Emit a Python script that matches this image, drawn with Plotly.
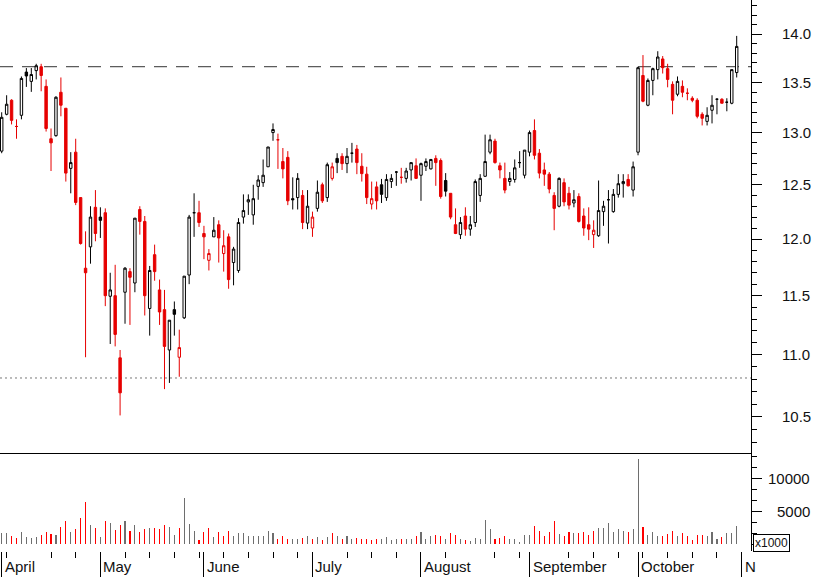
import plotly.graph_objects as go

# ---------------- data ----------------
opens = [12.82, 13.18, 13.32, 13.06, 13.17, 13.605, 13.51, 13.62, 13.66, 13.46,
         12.94, 12.97, 13.40, 13.24, 12.655, 12.81, 12.38, 11.74, 11.93, 12.29,
         12.20, 12.24, 11.495, 11.50, 10.975, 11.53, 11.71, 11.61, 12.27, 12.16,
         11.39, 11.86, 11.55, 11.38, 11.04, 11.38, 10.98, 11.31, 11.68, 12.24,
         12.24, 12.05, 11.81, 12.02, 12.13, 11.87, 12.02, 11.79, 11.72, 12.20,
         12.34, 12.22, 12.485, 12.52, 12.67, 13.00, 12.93, 12.72, 12.76, 12.37,
         12.38, 12.40, 12.145, 12.10, 12.28, 12.50, 12.38, 12.56, 12.75, 12.77,
         12.70, 12.80, 12.84, 12.675, 12.60, 12.32, 12.48, 12.50, 12.38, 12.53,
         12.62, 12.57, 12.56, 12.64, 12.68, 12.59, 12.675, 12.65, 12.75, 12.73,
         12.54, 12.42, 12.13, 12.04, 12.21, 12.09, 12.15, 12.40, 12.58, 12.81,
         12.917, 12.68, 12.56, 12.53, 12.55, 12.71, 12.59, 12.81, 13.02, 12.80,
         12.64, 12.60, 12.40, 12.30, 12.52, 12.42, 12.33, 12.39, 12.21, 12.13,
         12.04, 12.03, 12.25, 12.36, 12.25, 12.41, 12.51, 12.55, 12.45, 12.81,
         13.57, 13.27, 13.52, 13.63, 13.74, 13.64, 13.48, 13.38, 13.46, 13.39,
         13.34, 13.32, 13.18, 13.11, 13.22, 13.33, 13.33, 13.30, 13.29, 13.60]

highs = [13.20, 13.37, 13.33, 13.13, 13.56, 13.646, 13.646, 13.69, 13.69, 13.53,
         13.04, 13.36, 13.55, 13.24, 12.81, 12.94, 12.38, 12.07, 12.30, 12.45,
         12.29, 12.28, 11.70, 11.77, 11.04, 11.75, 11.74, 12.19, 12.30, 12.21,
         11.76, 11.95, 11.64, 11.55, 11.29, 11.45, 11.21, 11.67, 12.22, 12.42,
         12.35, 12.12, 11.91, 12.20, 12.17, 12.08, 12.05, 11.93, 12.19, 12.41,
         12.41, 12.50, 12.59, 12.74, 12.86, 13.09, 12.99, 12.85, 12.82, 12.57,
         12.61, 12.45, 12.45, 12.25, 12.54, 12.52, 12.71, 12.71, 12.80, 12.80,
         12.85, 12.90, 12.88, 12.80, 12.67, 12.53, 12.53, 12.555, 12.60, 12.60,
         12.63, 12.66, 12.66, 12.71, 12.75, 12.71, 12.75, 12.745, 12.78, 12.75,
         12.61, 12.42, 12.28, 12.20, 12.29, 12.21, 12.55, 12.60, 12.98, 12.98,
         12.94, 12.71, 12.71, 12.62, 12.74, 12.82, 12.83, 13.02, 13.13, 12.84,
         12.71, 12.62, 12.43, 12.57, 12.56, 12.48, 12.45, 12.42, 12.28, 12.29,
         12.17, 12.54, 12.35, 12.45, 12.46, 12.60, 12.60, 12.60, 12.72, 13.66,
         13.78, 13.54, 13.65, 13.82, 13.77, 13.69, 13.51, 13.56, 13.52, 13.44,
         13.36, 13.34, 13.20, 13.25, 13.37, 13.34, 13.34, 13.34, 13.63, 13.98]

lows = [12.80, 13.17, 13.08, 12.94, 13.13, 13.454, 13.404, 13.53, 13.41, 13.01,
        12.63, 12.96, 13.16, 12.53, 12.42, 12.31, 11.95, 10.98, 11.78, 11.98,
        12.01, 11.41, 11.09, 11.07, 10.51, 11.26, 11.25, 11.53, 12.04, 11.33,
        11.16, 11.63, 11.25, 10.72, 10.77, 11.16, 10.82, 11.30, 11.60, 12.02,
        12.11, 11.82, 11.72, 12.02, 11.79, 11.71, 11.56, 11.59, 11.70, 12.14,
        12.22, 12.13, 12.36, 12.48, 12.67, 12.92, 12.65, 12.56, 12.31, 12.27,
        12.27, 12.09, 12.09, 12.02, 12.25, 12.33, 12.34, 12.54, 12.61, 12.64,
        12.61, 12.71, 12.60, 12.53, 12.32, 12.27, 12.27, 12.33, 12.35, 12.47,
        12.49, 12.51, 12.52, 12.54, 12.555, 12.35, 12.63, 12.645, 12.49, 12.37,
        12.39, 12.18, 12.045, 12.00, 12.03, 12.03, 12.11, 12.34, 12.575, 12.79,
        12.70, 12.56, 12.42, 12.49, 12.52, 12.66, 12.56, 12.77, 12.74, 12.56,
        12.49, 12.42, 12.08, 12.29, 12.30, 12.27, 12.29, 12.15, 12.03, 11.99,
        11.92, 12.02, 12.12, 11.96, 12.24, 12.38, 12.38, 12.485, 12.39, 12.78,
        13.30, 13.26, 13.37, 13.53, 13.59, 13.45, 13.18, 13.36, 13.35, 13.32,
        13.30, 13.14, 13.07, 13.07, 13.09, 13.18, 13.29, 13.21, 13.28, 13.55]

closes = [13.15, 13.28, 13.12, 13.06, 13.54, 13.565, 13.58, 13.67, 13.57, 13.04,
          12.90, 13.35, 13.27, 12.61, 12.71, 12.335, 11.96, 11.70, 12.20, 12.05,
          12.17, 11.50, 11.55, 11.17, 10.69, 11.74, 11.66, 12.19, 12.16, 11.50,
          11.72, 11.71, 11.36, 11.07, 11.29, 11.34, 11.06, 11.67, 12.20, 12.24,
          12.15, 12.02, 11.87, 12.08, 12.01, 11.94, 11.64, 11.91, 12.15, 12.26,
          12.36, 12.37, 12.545, 12.59, 12.86, 13.03, 12.93, 12.65, 12.35, 12.36,
          12.56, 12.15, 12.30, 12.20, 12.43, 12.35, 12.69, 12.67, 12.71, 12.70,
          12.77, 12.80, 12.71, 12.605, 12.38, 12.37, 12.35, 12.41, 12.55, 12.56,
          12.62, 12.57, 12.63, 12.71, 12.56, 12.70, 12.72, 12.74, 12.71, 12.39,
          12.44, 12.20, 12.05, 12.15, 12.09, 12.13, 12.53, 12.56, 12.72, 12.93,
          12.71, 12.64, 12.45, 12.56, 12.66, 12.71, 12.83, 13.00, 12.78, 12.61,
          12.60, 12.46, 12.28, 12.56, 12.34, 12.31, 12.36, 12.16, 12.10, 12.09,
          12.08, 12.26, 12.30, 12.36, 12.41, 12.51, 12.53, 12.49, 12.67, 13.65,
          13.31, 13.52, 13.64, 13.76, 13.65, 13.53, 13.32, 13.51, 13.40, 13.39,
          13.32, 13.16, 13.14, 13.17, 13.27, 13.33, 13.29, 13.30, 13.63, 13.87]

# volume in thousands (axis marked x1000)
volumes = [1720, 1720, 1210, 960, 1870, 1110, 960, 1110, 1360, 1870,
           1520, 1360, 2630, 3540, 1870, 2270, 3990, 6410, 2880, 2480,
           1110, 3540, 3230, 2120, 2880, 3540, 2020, 2880, 1870, 2270,
           2480, 2480, 2270, 2880, 2630, 1360, 2480, 6920, 3080, 2020,
           610, 1870, 2420, 1060, 1870, 1210, 2020, 1210, 1720, 1720,
           1210, 1210, 1210, 1210, 2020, 1720, 710, 1210, 810, 810,
           810, 960, 1210, 810, 1060, 610, 1060, 1720, 1210, 810,
           1210, 710, 910, 810, 710, 610, 710, 810, 1060, 610,
           710, 710, 710, 710, 1210, 1870, 710, 1210, 1360, 1210,
           710, 1620, 1360, 710, 610, 450, 860, 810, 3640, 2270,
           810, 960, 1210, 710, 710, 350, 1360, 1360, 2730, 2020,
           1210, 1870, 3480, 1520, 1210, 1870, 1720, 1720, 1870, 1360,
           1970, 2370, 2370, 3230, 1870, 2270, 1970, 1870, 2270, 12830,
           2530, 1360, 1870, 1210, 1210, 1470, 1970, 1210, 1720, 1210,
           610, 1360, 1360, 1210, 1870, 810, 1060, 1620, 1620, 2730]

month_labels = ["April", "May", "June", "July", "August", "September", "October", "N"]
month_start_idx = [0, 20, 41, 63, 85, 107, 129, 150]
week_tick_idx = [1, 10, 15, 25, 30, 35, 40, 45, 50, 55, 60, 70, 75, 80,
                 90, 100, 105, 115, 120, 125, 130, 135, 140, 145]
price_ticks = [10.5, 11.0, 11.5, 12.0, 12.5, 13.0, 13.5, 14.0]
price_minor = [round(10.3 + 0.1 * k, 1) for k in range(41)]
vol_ticks = [5000, 10000]
vol_minor = [0, 1666.7, 3333.3, 6666.7, 8333.3, 11666.7, 13333.3]
ref_high = 13.66
ref_low = 10.81

# ---------------- styling ----------------
RED = "#e60000"
VRED = "#ff0000"
VGRAY = "#6e6e6e"
FONT = "Liberation Sans, Arial, sans-serif"

n = len(closes)
xs = list(range(n))

# hollow candles: close > open ; colour: red if close below previous close
groups = {
    "hollow_black": ([], "#ffffff", "#000000"),
    "filled_black": ([], "#000000", "#000000"),
    "hollow_red": ([], "#ffffff", RED),
    "filled_red": ([], RED, RED),
}
vol_colors = []
for i in range(n):
    prev = closes[i - 1] if i > 0 else opens[i]
    down = closes[i] < prev
    hollow = closes[i] > opens[i]
    key = ("hollow_" if hollow else "filled_") + ("red" if down else "black")
    groups[key][0].append(i)
    vol_colors.append(VRED if down else VGRAY)

fig = go.Figure()

for name, (idx, fill, line) in groups.items():
    if not idx:
        continue
    style = dict(fillcolor=fill, line=dict(color=line, width=1))
    fig.add_trace(go.Candlestick(
        x=[xs[i] for i in idx],
        open=[opens[i] for i in idx],
        high=[highs[i] for i in idx],
        low=[lows[i] for i in idx],
        close=[closes[i] for i in idx],
        increasing=style, decreasing=style,
        whiskerwidth=0, showlegend=False, hoverinfo="skip",
        xaxis="x", yaxis="y", name=name,
    ))

fig.add_trace(go.Bar(
    x=xs, y=volumes, marker=dict(color=vol_colors, line=dict(width=0)),
    width=0.22, xaxis="x2", yaxis="y2", showlegend=False, hoverinfo="skip",
))

XR = [-0.345, 151.9]
split = 98 / 551

fig.update_layout(
    width=817, height=577,
    margin=dict(l=0, r=66, t=0, b=26),
    paper_bgcolor="white", plot_bgcolor="white",
    boxgap=0.3,
    font=dict(family=FONT, color="#111111", size=15),
    xaxis=dict(domain=[0, 1], range=XR, anchor="y", showticklabels=False,
               showgrid=False, zeroline=False, showline=True, linecolor="#000000",
               linewidth=1, ticks="", rangeslider=dict(visible=False)),
    yaxis=dict(domain=[split, 1], type="log",
               range=[1.009339, 1.157228], side="right", anchor="x",
               showgrid=False, zeroline=False, showline=True, linecolor="#000000",
               linewidth=1, ticks="outside", ticklen=10, tickcolor="#000000",
               tickmode="array", tickvals=price_ticks,
               ticktext=["%.1f" % v for v in price_ticks],
               ticklabelstandoff=17,
               tickfont=dict(size=15, family=FONT, color="#111111"),
               minor=dict(tickmode="array", tickvals=price_minor, ticks="outside",
                          ticklen=5, tickcolor="#000000", showgrid=False)),
    xaxis2=dict(domain=[0, 1], range=XR, anchor="y2", showticklabels=False,
                showgrid=False, zeroline=False, showline=False,
                ticks="outside", ticklen=25, tickcolor="#000000", tickwidth=1,
                tickmode="array", tickvals=month_start_idx,
                minor=dict(tickmode="array", tickvals=week_tick_idx, ticks="outside",
                           ticklen=6, tickcolor="#000000", showgrid=False)),
    yaxis2=dict(domain=[0, split], range=[-1060, 13790], side="right", anchor="x2",
                showgrid=False, zeroline=False, showline=True, linecolor="#000000",
                linewidth=1, ticks="outside", ticklen=10, tickcolor="#000000",
                tickmode="array", tickvals=vol_ticks, showticklabels=False,
                minor=dict(tickmode="array", tickvals=vol_minor, ticks="outside",
                           ticklen=5, tickcolor="#000000", showgrid=False)),
    bargap=0,
)

fig.add_shape(type="line", xref="paper", yref="y", x0=0, x1=1, y0=ref_high, y1=ref_high,
              line=dict(color="#333333", width=1, dash="13px,9px"), layer="below")
fig.add_shape(type="line", xref="paper", yref="y", x0=0, x1=1, y0=ref_low, y1=ref_low,
              line=dict(color="#777777", width=1, dash="2px,3px"), layer="below")

for lbl, idx in zip(month_labels, month_start_idx):
    fig.add_annotation(x=idx, xref="x2", y=-15 / 551, yref="paper", text=lbl,
                       showarrow=False, xanchor="left", yanchor="middle", xshift=1,
                       font=dict(size=15, family=FONT, color="#111111"))

for v in vol_ticks:
    fig.add_annotation(x=812 / 751, xref="paper", y=v, yref="y2", text=str(v),
                       showarrow=False, xanchor="right", yanchor="middle",
                       font=dict(size=15, family=FONT, color="#111111"))

fig.add_annotation(x=753 / 751, xref="paper", y=8 / 551, yref="paper", text="x1000",
                   showarrow=False, xanchor="left", yanchor="middle",
                   bordercolor="#000000", borderwidth=1, borderpad=1, bgcolor="white",
                   font=dict(size=12, family=FONT, color="#111111"))

fig.write_html(
    "out.html",
    config={"displayModeBar": False, "staticPlot": True},
    post_script="document.body.style.margin='0';document.body.style.padding='0';"
                "document.documentElement.style.overflow='hidden';",
)
